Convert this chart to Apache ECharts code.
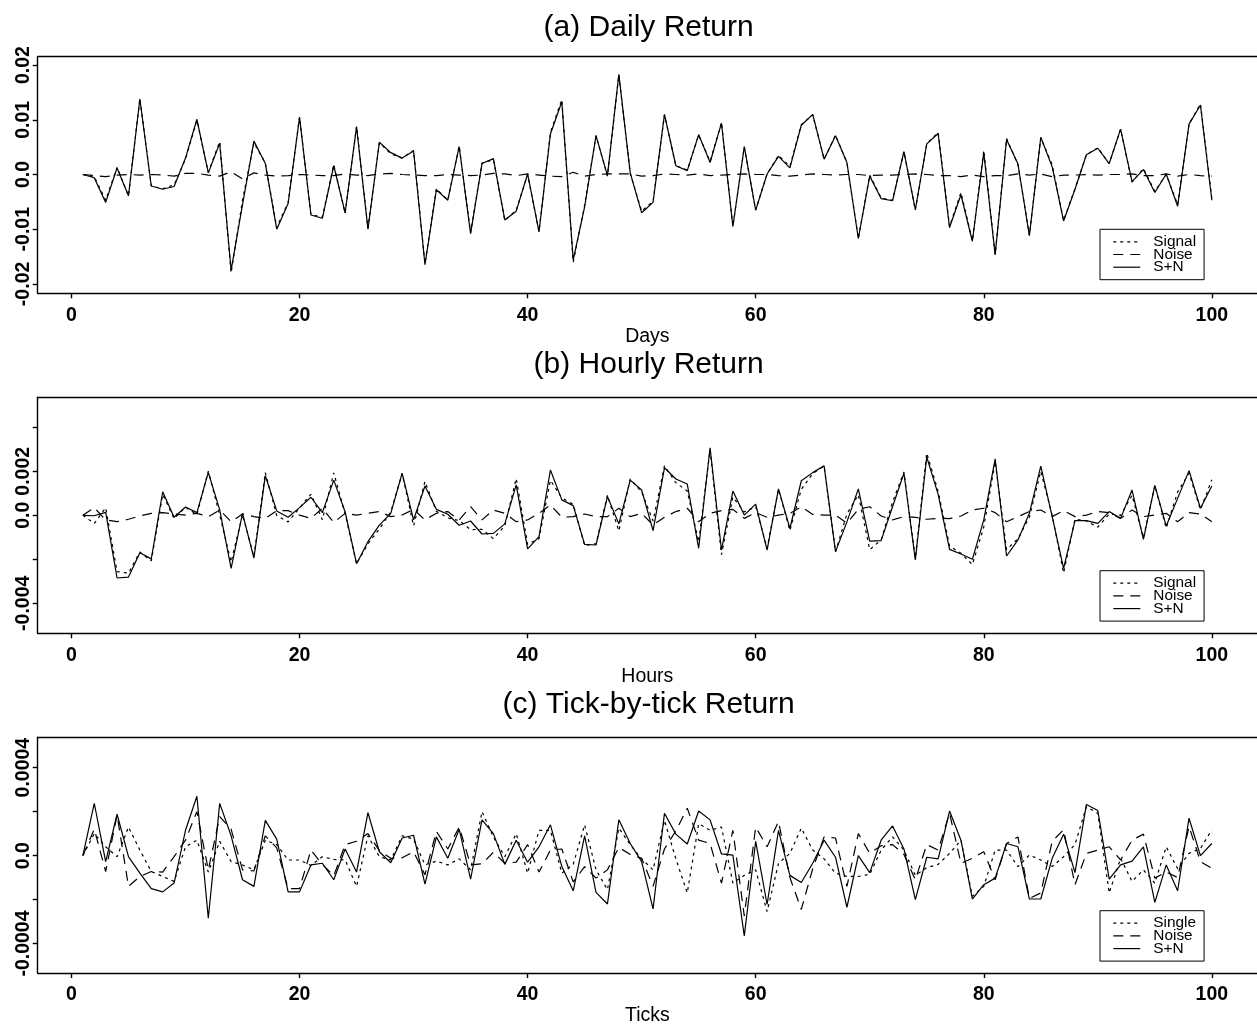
<!DOCTYPE html>
<html>
<head>
<meta charset="utf-8">
<script src="https://cdn.jsdelivr.net/npm/echarts@6/dist/echarts.min.js"></script>
<style>html,body{margin:0;padding:0;background:#fff}#c{width:1257px;height:1027px}</style>
</head>
<body>
<div id="c"></div>
<script>
// ---- categories / ticks ----
const steps = [];
for (let i = 1; i <= 100; i++) steps.push(i);
const xTicks = [0, 20, 40, 60, 80, 100];

const yTicksA = [-0.02, -0.01, 0, 0.01, 0.02];
const yLabelValsA = [-0.02, -0.01, 0, 0.01, 0.02];
const yLabelTextA = ['-0.02', '-0.01', '0.0', '0.01', '0.02'];

const yTicksB = [-0.004, -0.002, 0, 0.002, 0.004];
const yLabelValsB = [-0.004, 0, 0.002];
const yLabelTextB = ['-0.004', '0.0', '0.002'];

const yTicksC = [-0.0004, -0.0002, 0, 0.0002, 0.0004];
const yLabelValsC = [-0.0004, 0, 0.0004];
const yLabelTextC = ['-0.0004', '0.0', '0.0004'];

// ---- (a) Daily ----
const dailySignal = [0, -0.0004, -0.0047, 0.0013, -0.0039, 0.0139, -0.0021, -0.0026, -0.0019, 0.0028,
 0.0099, 0.0004, 0.0060, -0.0180, -0.0047, 0.0058, 0.0021, -0.0097, -0.0051, 0.0105,
 -0.0073, -0.0078, 0.0018, -0.0071, 0.0088, -0.0098, 0.0058, 0.0038, 0.0030, 0.0044,
 -0.0163, -0.0026, -0.0047, 0.0052, -0.0106, 0.0021, 0.0027, -0.0084, -0.0065, 0.0000,
 -0.0104, 0.0077, 0.0137, -0.0160, -0.0056, 0.0071, -0.0003, 0.0182, 0.0002, -0.0067,
 -0.0049, 0.0109, 0.0016, 0.0008, 0.0072, 0.0024, 0.0095, -0.0095, 0.0050, -0.0065,
 0.0001, 0.0035, 0.0015, 0.0091, 0.0109, 0.0028, 0.0072, 0.0022, -0.0117, -0.0001,
 -0.0043, -0.0047, 0.0042, -0.0065, 0.0056, 0.0077, -0.0095, -0.0033, -0.0121, 0.0044,
 -0.0145, 0.0066, 0.0018, -0.0111, 0.0067, 0.0018, -0.0084, -0.0026, 0.0036, 0.0049,
 0.0020, 0.0083, -0.0014, 0.0011, -0.0031, 0.0000, -0.0055, 0.0092, 0.0129, -0.0044];
const dailyNoise = [0, -0.0002, -0.0004, -0.0001, 0.0000, -0.0001, 0.0000, -0.0001, -0.0003, 0.0002,
 0.0002, -0.0001, -0.0003, 0.0005, -0.0008, 0.0003, -0.0001, -0.0003, -0.0002, 0.0000,
 -0.0001, -0.0002, -0.0002, 0.0001, -0.0001, -0.0002, 0.0001, 0.0002, 0.0000, -0.0001,
 -0.0002, -0.0002, 0.0000, -0.0001, -0.0002, -0.0001, 0.0002, 0.0001, -0.0002, 0.0001,
 -0.0001, -0.0003, -0.0004, 0.0004, -0.0003, 0.0000, 0.0001, 0.0001, 0.0001, -0.0003,
 -0.0002, 0.0001, 0.0000, -0.0001, 0.0001, -0.0002, -0.0001, 0.0000, 0.0001, 0.0000,
 0.0000, -0.0002, -0.0003, -0.0001, 0.0001, 0.0000, -0.0001, 0.0000, 0.0000, -0.0002,
 -0.0001, -0.0001, 0.0000, 0.0001, 0.0000, -0.0002, -0.0002, -0.0004, -0.0001, -0.0004,
 -0.0002, -0.0002, 0.0001, -0.0001, 0.0001, -0.0004, -0.0001, -0.0001, 0.0000, -0.0001,
 0.0000, 0.0000, 0.0001, -0.0002, -0.0002, 0.0001, -0.0003, 0.0000, -0.0002, -0.0003];
const dailySN = [0, -0.0006, -0.0051, 0.0012, -0.0039, 0.0138, -0.0021, -0.0027, -0.0022, 0.0030,
 0.0101, 0.0003, 0.0057, -0.0175, -0.0055, 0.0061, 0.0020, -0.0100, -0.0053, 0.0105,
 -0.0074, -0.0080, 0.0016, -0.0070, 0.0087, -0.0100, 0.0059, 0.0040, 0.0030, 0.0043,
 -0.0165, -0.0028, -0.0047, 0.0051, -0.0108, 0.0020, 0.0029, -0.0083, -0.0067, 0.0001,
 -0.0105, 0.0074, 0.0133, -0.0156, -0.0059, 0.0071, -0.0002, 0.0183, 0.0003, -0.0070,
 -0.0051, 0.0110, 0.0016, 0.0007, 0.0073, 0.0022, 0.0094, -0.0095, 0.0051, -0.0065,
 0.0001, 0.0033, 0.0012, 0.0090, 0.0110, 0.0028, 0.0071, 0.0022, -0.0117, -0.0003,
 -0.0044, -0.0048, 0.0042, -0.0064, 0.0056, 0.0075, -0.0097, -0.0037, -0.0122, 0.0040,
 -0.0147, 0.0064, 0.0019, -0.0112, 0.0068, 0.0014, -0.0085, -0.0027, 0.0036, 0.0048,
 0.0020, 0.0083, -0.0013, 0.0009, -0.0033, 0.0001, -0.0058, 0.0092, 0.0127, -0.0047];

// ---- (b) Hourly ----
const hourlySignal = [0, -0.00037, 0.00034, -0.00256, -0.00263, -0.00167, -0.00207, 0.00095, -0.00015, 0.00037,
 0.00003, 0.00201, 0.00001, -0.00212, 0.00003, -0.00189, 0.00194, -0.00001, -0.00030, 0.00034,
 0.00096, -0.00020, 0.00193, 0.00006, -0.00221, -0.00129, -0.00062, 0.00015, 0.00190, -0.00048,
 0.00154, 0.00018, -0.00012, -0.00024, -0.00065, -0.00064, -0.00106, -0.00048, 0.00167, -0.00132,
 -0.00106, 0.00159, 0.00079, 0.00050, -0.00138, -0.00129, 0.00091, -0.00071, 0.00166, 0.00106,
 -0.00026, 0.00225, 0.00148, 0.00110, -0.00121, 0.00298, -0.00179, 0.00083, 0.00015, 0.00039,
 -0.00149, 0.00119, -0.00069, 0.00118, 0.00190, 0.00224, -0.00166, 0.00006, 0.00093, -0.00156,
 -0.00112, 0.00060, 0.00197, -0.00194, 0.00283, 0.00109, -0.00140, -0.00173, -0.00224, -0.00053,
 0.00244, -0.00156, -0.00106, -0.00008, 0.00200, 0.00000, -0.00262, -0.00018, -0.00025, -0.00054,
 0.00005, 0.00000, 0.00091, -0.00103, 0.00135, -0.00058, 0.00106, 0.00191, 0.00026, 0.00162];
const hourlyNoise = [0, 0.00035, -0.00021, -0.00029, -0.00018, -0.00003, 0.00009, 0.00012, 0.00006, 0.00001,
 0.00009, -0.00006, 0.00024, -0.00029, 0.00006, -0.00006, -0.00014, 0.00021, 0.00021, 0.00001,
 -0.00014, 0.00032, -0.00033, 0.00009, 0.00001, 0.00009, 0.00017, -0.00006, 0.00001, 0.00027,
 -0.00021, 0.00009, 0.00017, -0.00021, 0.00039, -0.00021, 0.00024, 0.00009, -0.00029, -0.00021,
 0.00009, 0.00047, -0.00009, -0.00006, 0.00006, -0.00006, -0.00006, 0.00032, -0.00006, 0.00009,
 -0.00044, -0.00009, 0.00017, 0.00032, -0.00029, 0.00009, 0.00021, 0.00027, -0.00014, 0.00012,
 -0.00009, 0.00001, 0.00009, 0.00039, 0.00004, 0.00001, 0.00001, -0.00036, 0.00027, 0.00039,
 -0.00003, -0.00021, -0.00006, -0.00009, -0.00018, -0.00014, -0.00015, -0.00003, 0.00024, 0.00032,
 0.00012, -0.00029, -0.00006, 0.00017, 0.00024, -0.00006, 0.00021, -0.00006, 0.00001, 0.00017,
 0.00012, -0.00014, 0.00024, -0.00006, 0.00001, 0.00009, -0.00029, 0.00012, 0.00006, -0.00029];
const hourlySN = [0, -0.00002, 0.00013, -0.00285, -0.00281, -0.00170, -0.00198, 0.00107, -0.00009, 0.00038,
 0.00012, 0.00195, 0.00025, -0.00241, 0.00009, -0.00195, 0.00180, 0.00020, -0.00009, 0.00035,
 0.00082, 0.00012, 0.00160, 0.00015, -0.00220, -0.00120, -0.00045, 0.00009, 0.00191, -0.00021,
 0.00133, 0.00027, 0.00005, -0.00045, -0.00026, -0.00085, -0.00082, -0.00039, 0.00138, -0.00153,
 -0.00097, 0.00206, 0.00070, 0.00044, -0.00132, -0.00135, 0.00085, -0.00039, 0.00160, 0.00115,
 -0.00070, 0.00216, 0.00165, 0.00142, -0.00150, 0.00307, -0.00158, 0.00110, 0.00001, 0.00051,
 -0.00158, 0.00120, -0.00060, 0.00157, 0.00194, 0.00225, -0.00165, -0.00030, 0.00120, -0.00117,
 -0.00115, 0.00039, 0.00191, -0.00203, 0.00265, 0.00095, -0.00155, -0.00176, -0.00200, -0.00021,
 0.00256, -0.00185, -0.00112, 0.00009, 0.00224, -0.00006, -0.00241, -0.00024, -0.00024, -0.00037,
 0.00017, -0.00014, 0.00115, -0.00109, 0.00136, -0.00049, 0.00077, 0.00203, 0.00032, 0.00133];

// ---- (c) Tick-by-tick ----
const tickSignal = [0, 1.0e-4, 0.4e-4, -0.05e-4, 1.3e-4, 0.25e-4, -0.725e-4, -0.95e-4, -1.175e-4, 0.4e-4,
 0.7e-4, -0.75e-4, 0.65e-4, -0.275e-4, -0.425e-4, -0.65e-4, 0.7e-4, 0.5e-4, -0.2e-4, -0.2e-4,
 -0.45e-4, -0.05e-4, -0.175e-4, -0.2e-4, -1.4e-4, 0.9e-4, -0.05e-4, -0.2e-4, 0.9e-4, 0.75e-4,
 -0.425e-4, -0.25e-4, -0.425e-4, -0.15e-4, -0.65e-4, 2.0e-4, 0.85e-4, -0.05e-4, 1.0e-4, -0.8e-4,
 1.15e-4, 1.15e-4, -0.8e-4, -0.4e-4, 1.4e-4, -0.65e-4, -1.55e-4, 1.25e-4, 0.5e-4, -0.15e-4,
 -0.65e-4, 1.6e-4, -0.15e-4, -1.7e-4, 1.45e-4, 1.15e-4, 1.3e-4, -1.25e-4, -0.9e-4, -0.65e-4,
 -2.55e-4, -0.35e-4, 0.1e-4, 1.25e-4, 0.25e-4, -0.15e-4, -0.8e-4, -0.95e-4, -0.95e-4, -0.85e-4,
 0.25e-4, 0.85e-4, 0.25e-4, -0.9e-4, -0.55e-4, -0.4e-4, 0.1e-4, 0.7e-4, -1.85e-4, -1.4e-4,
 0.25e-4, 0.25e-4, -0.5e-4, 0.025e-4, -0.2e-4, -0.5e-4, -0.05e-4, 0.5e-4, 2.225e-4, 1.925e-4,
 -1.7e-4, -0.125e-4, -1.175e-4, -0.65e-4, -1.25e-4, 0.4e-4, -0.6e-4, 0.1e-4, 0.325e-4, 1.175e-4];
const tickNoise = [0, 1.2e-4, -0.725e-4, 1.85e-4, -1.4e-4, -0.95e-4, -0.725e-4, -0.75e-4, -0.05e-4, 0.7e-4,
 2.0e-4, -0.65e-4, 1.775e-4, 1.2e-4, -0.65e-4, -0.7e-4, 0.9e-4, 0.35e-4, -1.5e-4, -1.5e-4,
 0.25e-4, -0.4e-4, -0.925e-4, 0.5e-4, 0.65e-4, 1.0e-4, 0.225e-4, -0.125e-4, -0.1e-4, 0.175e-4,
 -0.875e-4, 1.1e-4, 0.3e-4, 1.3e-4, -0.425e-4, -0.375e-4, 0.15e-4, -0.35e-4, -0.3e-4, 0.5e-4,
 -0.75e-4, 0.25e-4, 0.3e-4, -1.2e-4, -0.5e-4, -1.025e-4, -0.65e-4, 0.375e-4, 0.05e-4, -0.125e-4,
 -1.4e-4, 0.3e-4, 1.125e-4, 2.15e-4, 0.7e-4, 0.55e-4, -1.25e-4, 1.15e-4, -2.75e-4, 1.3e-4,
 0.4e-4, 1.55e-4, -1.0e-4, -2.45e-4, -0.6e-4, 0.85e-4, 0.8e-4, -1.4e-4, 1.0e-4, 0.1e-4,
 0.45e-4, 0.5e-4, 0.05e-4, -1.1e-4, 0.5e-4, 0.25e-4, 1.925e-4, -0.35e-4, -0.125e-4, 0.175e-4,
 -1.1e-4, 0.55e-4, 0.85e-4, -1.95e-4, -1.7e-4, 0.65e-4, 1.175e-4, -1.325e-4, 0.1e-4, 0.25e-4,
 0.4e-4, -0.2e-4, 0.7e-4, 0.975e-4, -1.025e-4, -0.75e-4, -1.0e-4, 1.325e-4, -0.275e-4, -0.575e-4];
const tickSN = [0, 2.38e-4, -0.275e-4, 1.88e-4, -0.05e-4, -0.8e-4, -1.5e-4, -1.65e-4, -1.25e-4, 1.15e-4,
 2.7e-4, -2.85e-4, 2.375e-4, 0.9e-4, -1.1e-4, -1.4e-4, 1.6e-4, 0.75e-4, -1.65e-4, -1.65e-4,
 -0.425e-4, -0.35e-4, -1.1e-4, 0.3e-4, -0.75e-4, 1.95e-4, 0.175e-4, -0.325e-4, 0.8e-4, 0.925e-4,
 -1.3e-4, 0.85e-4, -0.125e-4, 1.2e-4, -1.075e-4, 1.625e-4, 1.0e-4, -0.4e-4, 0.7e-4, -0.3e-4,
 0.4e-4, 1.4e-4, -0.5e-4, -1.6e-4, 0.9e-4, -1.675e-4, -2.2e-4, 1.625e-4, 0.55e-4, -0.275e-4,
 -2.425e-4, 1.925e-4, 0.975e-4, 0.525e-4, 2.025e-4, 1.625e-4, 0.075e-4, 0.025e-4, -3.65e-4, 0.65e-4,
 -2.225e-4, 1.15e-4, -0.9e-4, -1.225e-4, -0.35e-4, 0.7e-4, -0.075e-4, -2.35e-4, 0, -0.775e-4,
 0.7e-4, 1.35e-4, 0.3e-4, -2.0e-4, -0.075e-4, -0.15e-4, 2.025e-4, 0.7e-4, -1.975e-4, -1.325e-4,
 -1.025e-4, 0.55e-4, 0.4e-4, -1.975e-4, -1.975e-4, -0.125e-4, 0.975e-4, -0.775e-4, 2.325e-4, 2.05e-4,
 -1.075e-4, -0.425e-4, -0.25e-4, 0.4e-4, -2.125e-4, -0.425e-4, -1.6e-4, 1.7e-4, 0, 0.55e-4];

// ---- layout / style ----
const FONT = "'Liberation Sans', Arial, Helvetica, sans-serif";
const GL = 37.7, GW = 1221.9;
const X_MIN = -2.96, X_MAX = 103.96;
const lineTypes = [[3, 4], [10, 7], 'solid'];

const panels = [
  { title: '(a) Daily Return', titleY: 28, xName: 'Days', top: 56.7, height: 236.6,
    ymin: -0.021718, ymax: 0.021536, ticks: yTicksA, labVals: yLabelValsA, labText: yLabelTextA,
    names: ['Signal', 'Noise', 'S+N'], data: [dailySignal, dailyNoise, dailySN], legendTop: 229.3 },
  { title: '(b) Hourly Return', titleY: 365, xName: 'Hours', top: 397.3, height: 236,
    ymin: -0.005364, ymax: 0.005364, ticks: yTicksB, labVals: yLabelValsB, labText: yLabelTextB,
    names: ['Signal', 'Noise', 'S+N'], data: [hourlySignal, hourlyNoise, hourlySN], legendTop: 570.7 },
  { title: '(c) Tick-by-tick Return', titleY: 705, xName: 'Ticks', top: 737.3, height: 236,
    ymin: -0.0005345, ymax: 0.000538, ticks: yTicksC, labVals: yLabelValsC, labText: yLabelTextC,
    names: ['Single', 'Noise', 'S+N'], data: [tickSignal, tickNoise, tickSN], legendTop: 910.7 }
];

const axisLineStyle = { color: '#000', width: 1.4 };
const grid = [], xAxis = [], yAxis = [], series = [], legend = [], graphic = [];

panels.forEach((p, pi) => {
  grid.push({ left: GL, top: p.top, width: GW, height: p.height, containLabel: false, show: false });
  xAxis.push({
    gridIndex: pi, type: 'value', min: X_MIN, max: X_MAX, position: 'bottom',
    axisLine: { show: true, onZero: false, lineStyle: axisLineStyle },
    axisTick: { show: true, inside: false, length: 5, customValues: xTicks, lineStyle: axisLineStyle },
    axisLabel: { show: true, customValues: xTicks, margin: 12, fontSize: 19.5, fontWeight: 'bold',
                 color: '#000', fontFamily: FONT },
    splitLine: { show: false },
    name: p.xName, nameLocation: 'middle', nameGap: 32,
    nameTextStyle: { fontSize: 19.5, color: '#000', fontFamily: FONT }
  });
  xAxis.push({
    gridIndex: pi, type: 'value', min: X_MIN, max: X_MAX, position: 'top',
    axisLine: { show: true, onZero: false, lineStyle: axisLineStyle },
    axisTick: { show: false }, axisLabel: { show: false }, splitLine: { show: false }
  });
  yAxis.push({
    gridIndex: pi, type: 'value', min: p.ymin, max: p.ymax, position: 'left',
    axisLine: { show: true, onZero: false, lineStyle: axisLineStyle },
    axisTick: { show: true, inside: false, length: 5, customValues: p.ticks, lineStyle: axisLineStyle },
    axisLabel: {
      show: true, customValues: p.labVals, rotate: 90, margin: 4, fontSize: 19.5, fontWeight: 'bold',
      color: '#000', fontFamily: FONT,
      formatter: (v) => {
        let best = 0, bd = Infinity;
        p.labVals.forEach((t, i) => { const d = Math.abs(t - v); if (d < bd) { bd = d; best = i; } });
        return p.labText[best];
      }
    },
    splitLine: { show: false }
  });
  p.names.forEach((nm, k) => {
    series.push({
      type: 'line', name: nm, xAxisIndex: pi * 2, yAxisIndex: pi,
      data: steps.map((s, i) => [s, p.data[k][i]]),
      symbol: 'none', showSymbol: false, animation: false, silent: true,
      lineStyle: { color: '#000', width: 1.2, type: lineTypes[k] },
      itemStyle: { color: '#000' },
      z: 2 + k
    });
  });
  legend.push({
    data: p.names, orient: 'vertical', left: 1100, top: p.legendTop,
    itemWidth: 27, itemHeight: 12.7, itemGap: -2.3, selectedMode: false,
    borderColor: '#000', borderWidth: 1, borderRadius: 0,
    padding: [5, 8, 5, 12.7], backgroundColor: '#fff',
    itemStyle: { opacity: 0, color: 'transparent', borderWidth: 0 },
    lineStyle: { width: 1.2 },
    textStyle: { fontSize: 15.4, lineHeight: 12.7, color: '#000', fontFamily: FONT, padding: [0, 0, 0, 8] }
  });
  graphic.push({
    type: 'text', x: GL + GW / 2, y: p.titleY, silent: true,
    style: { text: p.title, fontSize: 30, fontFamily: FONT, fill: '#000',
             textAlign: 'center', align: 'center', textVerticalAlign: 'middle', verticalAlign: 'middle' }
  });
});

const chart = echarts.init(document.getElementById('c'), null, { renderer: 'canvas' });
chart.setOption({
  animation: false,
  backgroundColor: '#fff',
  grid, xAxis, yAxis, series, legend, graphic
});
</script>
</body>
</html>
